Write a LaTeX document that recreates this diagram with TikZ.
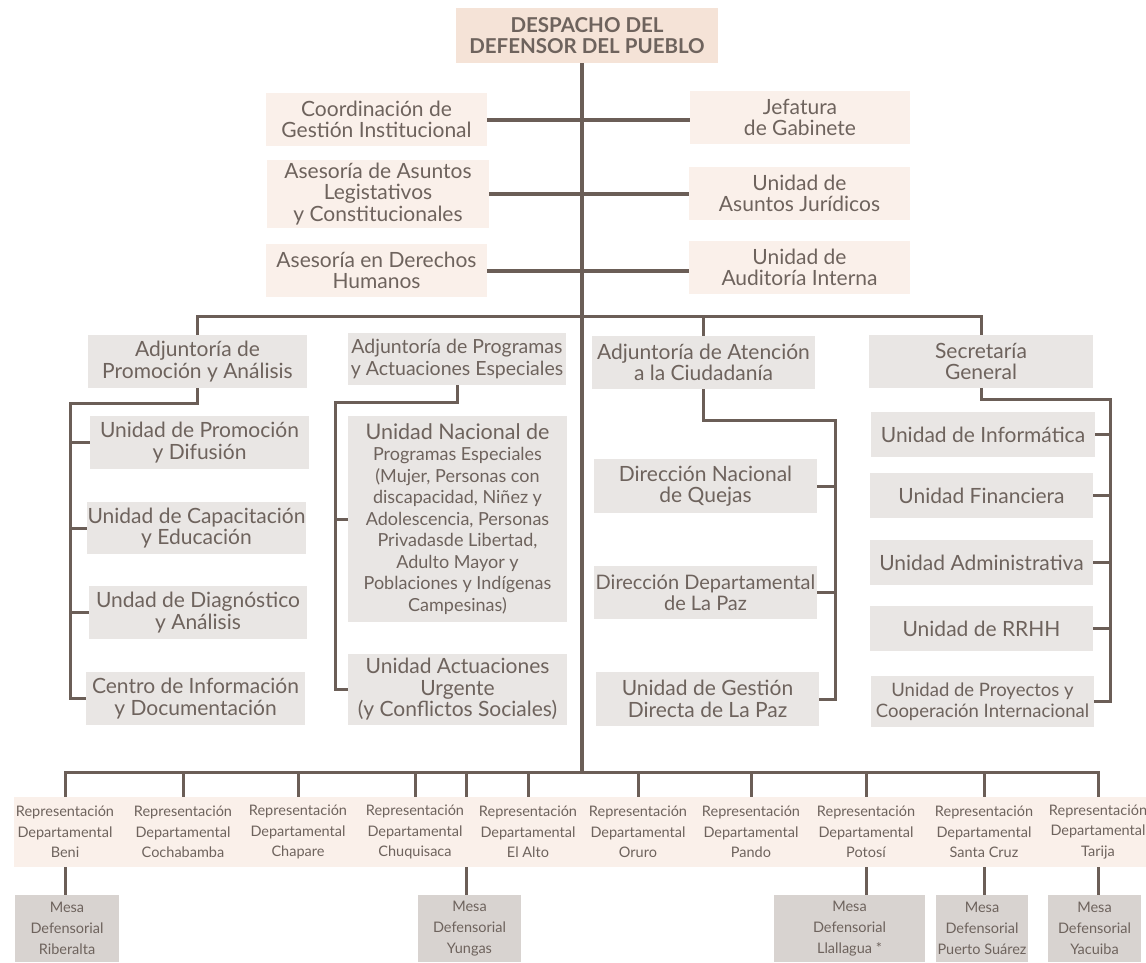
\documentclass[tikz,border=0pt]{standalone}
\usepackage{fontspec}
\setmainfont{Lato}
\definecolor{txt}{RGB}{110,99,93}
\definecolor{lnc}{RGB}{107,94,87}
\definecolor{peachD}{RGB}{245,227,215}
\definecolor{peachL}{RGB}{250,240,234}
\definecolor{greyB}{RGB}{233,230,228}
\definecolor{mesaC}{RGB}{216,211,208}
\tikzset{
  box/.style={align=center, inner sep=0pt, text=txt, font=\fontsize{21}{21.5}\selectfont},
  pbox/.style={box, fill=peachL},
  gbox/.style={box, fill=greyB},
  repbox/.style={align=center, inner sep=0pt, text=txt, font=\fontsize{14.5}{20.5}\selectfont, minimum height=70, minimum width=100},
  mesabox/.style={align=center, inner sep=0pt, text=txt, fill=mesaC, font=\fontsize{14.5}{21}\selectfont, minimum height=67},
  ln/.style={draw=lnc, line width=3pt},
  lnthick/.style={draw=lnc, line width=4pt},
}
\begin{document}
\begin{tikzpicture}[x=1pt,y=-1pt]
\useasboundingbox (0,0) rectangle (1146,962);

% top
\node[box, fill=peachD, minimum width=262, minimum height=55, font=\bfseries\fontsize{20.5}{20.5}\selectfont] (desp) at (587,35.5) {DESPACHO DEL\\DEFENSOR DEL PUEBLO};

\node[pbox, minimum width=221, minimum height=53] (coord) at (376.5,119.5) {Coordinación de\\Gestión Institucional};
\node[pbox, minimum width=220, minimum height=53] (jef) at (800,117.5) {Jefatura\\de Gabinete};
\node[pbox, minimum width=222, minimum height=68] (aleg) at (378,194) {Asesoría de Asuntos\\Legistativos\\y Constitucionales};
\node[pbox, minimum width=221, minimum height=53] (ajur) at (799.5,193.5) {Unidad de\\Asuntos Jurídicos};
\node[pbox, minimum width=221, minimum height=53] (addhh) at (376.5,270.5) {Asesoría en Derechos\\Humanos};
\node[pbox, minimum width=221, minimum height=53] (aud) at (799.5,267.5) {Unidad de\\Auditoría Interna};

% adjuntorias
\node[gbox, minimum width=219, minimum height=53] (adjprom) at (197.5,361.5) {Adjuntoría de\\Promoción y Análisis};
\node[gbox, minimum width=218, minimum height=52, font=\fontsize{19.5}{21.5}\selectfont] (adjprog) at (457,359) {Adjuntoría de Programas\\y Actuaciones Especiales};
\node[gbox, minimum width=223, minimum height=53] (adjaten) at (703.5,362.5) {Adjuntoría de Atención\\a la Ciudadanía};
\node[gbox, minimum width=224, minimum height=53] (sec) at (981,361.5) {Secretaría\\General};

% promocion children
\node[gbox, minimum width=219, minimum height=53] (uprom) at (199.5,442.5) {Unidad de Promoción\\y Difusión};
\node[gbox, minimum width=219, minimum height=52] (ucap) at (196.5,528) {Unidad de Capacitación\\y Educación};
\node[gbox, minimum width=218, minimum height=53] (udiag) at (198,612.5) {Undad de Diagnóstico\\y Análisis};
\node[gbox, minimum width=219, minimum height=53] (ucentro) at (195.5,698.5) {Centro de Información\\y Documentación};

% programas children
\node[gbox, minimum width=219, minimum height=206, font=\fontsize{18}{21.5}\selectfont] (unac) at (457.5,519) {{\fontsize{21.5}{21.5}\selectfont Unidad Nacional de}\\Programas Especiales\\(Mujer, Personas con\\discapacidad, Niñez y\\Adolescencia, Personas\\Privadasde Libertad,\\Adulto Mayor y\\Poblaciones y Indígenas\\Campesinas)};
\node[gbox, minimum width=219, minimum height=71] (uact) at (457.5,689.5) {Unidad Actuaciones\\Urgente\\(y Conflictos Sociales)};

% atencion children
\node[gbox, minimum width=223, minimum height=54] (dnq) at (705.5,486) {Dirección Nacional\\de Quejas};
\node[gbox, minimum width=223, minimum height=53, font=\fontsize{20}{21.5}\selectfont] (ddlp) at (705.5,592.5) {Dirección Departamental\\de La Paz};
\node[gbox, minimum width=223, minimum height=54] (ugd) at (707.5,699) {Unidad de Gestión\\Directa de La Paz};

% secretaria children
\node[gbox, minimum width=224, minimum height=45] (uinf) at (983,434.5) {Unidad de Informática};
\node[gbox, minimum width=223, minimum height=45] (ufin) at (981.5,495.5) {Unidad Financiera};
\node[gbox, minimum width=223, minimum height=45] (uadm) at (981.5,562.5) {Unidad Administrativa};
\node[gbox, minimum width=223, minimum height=45] (urrhh) at (981.5,628.5) {Unidad de RRHH};
\node[gbox, minimum width=223, minimum height=51, font=\fontsize{18.5}{21}\selectfont] (uproy) at (982.5,701.5) {Unidad de Proyectos y\\Cooperación Internacional};

% mesas
\node[mesabox, minimum width=104] (mrib) at (67,928.5) {Mesa\\Defensorial\\Riberalta};
\node[mesabox, minimum width=103] (myun) at (469.5,928.5) {Mesa\\Defensorial\\Yungas};
\node[mesabox, minimum width=151] (mlla) at (849.5,928.5) {Mesa\\Defensorial\\Llallagua *};
\node[mesabox, minimum width=92] (mpsz) at (982,928.5) {Mesa\\Defensorial\\Puerto Suárez};
\node[mesabox, minimum width=93] (myac) at (1094.5,928.5) {Mesa\\Defensorial\\Yacuiba};

% coordinates
\coordinate (spine) at (582,773);
\coordinate (yb) at (466,773);
\coordinate (railA) at (70,403);
\coordinate (railB) at (335,402);
\coordinate (railC) at (835,420);
\coordinate (railD) at (1110,399);

% Yungas connector (behind the band)
\draw[ln] (yb) -- (myun.north -| yb);

% representation band
\node[fill=peachL, minimum width=1132, minimum height=70, inner sep=0pt] (band) at (580,832) {};
\node[repbox] (rbeni) at (65,832) {Representación\\Departamental\\Beni};
\node[repbox] (rcoch) at (183,832) {Representación\\Departamental\\Cochabamba};
\node[repbox] (rchap) at (298,832) {Representación\\Departamental\\Chapare};
\node[repbox] (rchuq) at (415,832) {Representación\\Departamental\\Chuquisaca};
\node[repbox] (ralto) at (528,832) {Representación\\Departamental\\El Alto};
\node[repbox] (roru) at (638,832) {Representación\\Departamental\\Oruro};
\node[repbox] (rpan) at (751,832) {Representación\\Departamental\\Pando};
\node[repbox] (rpot) at (866,832) {Representación\\Departamental\\Potosí};
\node[repbox] (rscz) at (984,832) {Representación\\Departamental\\Santa Cruz};
\node[repbox] (rtar) at (1098,832) {Representación\\Departamental\\Tarija};

% spine
\draw[ln, line width=3.3pt] (desp.south -| spine) -- (spine);

% top connectors
\draw[lnthick] (coord.east) -- (coord.east -| jef.west);
\draw[lnthick] (aleg.east) -- (aleg.east -| ajur.west);
\draw[lnthick] (addhh.east) -- (addhh.east -| aud.west);

% adjuntoria bus
\draw[ln, line join=miter] (adjprom.north) -- ++(0,-18.5) -| (sec.north);
\draw[ln] (adjaten.north) -- ++(0,-19.5);

% promocion rail
\draw[ln, line join=miter] (adjprom.south) |- (railA) |- (ucentro.west);
\foreach \n in {uprom,ucap,udiag} \draw[ln] (\n.west) -- (\n.west -| railA);

% programas rail
\draw[ln, line join=miter] (adjprog.south) |- (railB) |- (uact.west);
\draw[ln] (unac.west) -- (unac.west -| railB);

% atencion rail
\draw[ln, line join=miter] (adjaten.south) |- (railC) |- (ugd.east);
\foreach \n in {dnq,ddlp} \draw[ln] (\n.east) -- (\n.east -| railC);

% secretaria rail
\draw[ln, line join=miter] (sec.south) |- (railD) |- (uproy.east);
\foreach \n in {uinf,ufin,uadm,urrhh} \draw[ln] (\n.east) -- (\n.east -| railD);

% bottom bus
\draw[ln, line join=miter] (rbeni.north) -- ++(0,-24) -| (rtar.north);
\foreach \n in {rcoch,rchap,rchuq,ralto,roru,rpan,rpot,rscz} \draw[ln] (\n.north) -- ++(0,-24);
\draw[ln] (yb) -- (yb |- band.north);

% mesas
\draw[ln] (rbeni.south) -- (mrib.north -| rbeni.south);
\draw[ln] (rpot.south) -- (mlla.north -| rpot.south);
\draw[ln] (rscz.south) -- (mpsz.north -| rscz.south);
\draw[ln] (rtar.south) -- (myac.north -| rtar.south);
\end{tikzpicture}
\end{document}
